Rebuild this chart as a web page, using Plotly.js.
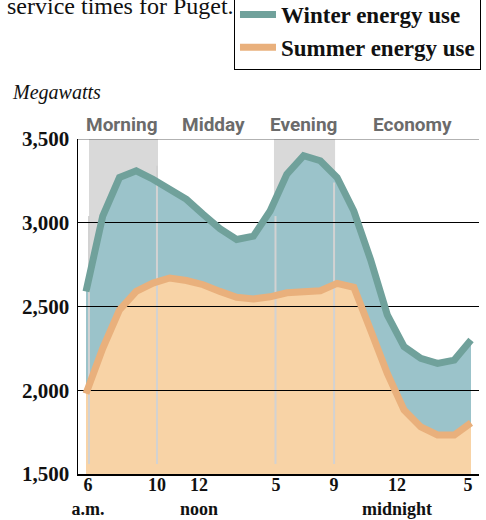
<!DOCTYPE html>
<html><head><meta charset="utf-8">
<script src="https://cdn.plot.ly/plotly-3.0.1.min.js"></script>
<style>html,body{margin:0;padding:0;background:#fff}#chart{width:486px;height:520px}</style>
</head><body><div id="chart"></div>
<script>
// hour of day (6 a.m. through 5 a.m. next day)
const hours = [6,7,8,9,10,11,12,13,14,15,16,17,18,19,20,21,22,23,24,25,26,27,28,29];
const winter = [2590,3040,3270,3310,3260,3200,3140,3050,2965,2900,2920,3070,3290,3400,3370,3270,3070,2780,2450,2260,2190,2160,2180,2300];
const summer = [1980,2250,2480,2590,2640,2670,2655,2630,2590,2555,2545,2558,2582,2586,2594,2638,2615,2360,2100,1882,1781,1733,1733,1805];
const seriesNames = ['Winter energy use', 'Summer energy use'];
const xTickVals = [6.12, 10.24, 12.75, 17.35, 20.82, 24.58, 28.82];
const xTickText = ['6<br>a.m.', '10', '12<br>noon', '5', '9', '12<br>midnight', '5'];
const yTickVals = [1500, 2000, 2500, 3000, 3500];
const yTickText = ['1,500', '2,000', '2,500', '3,000', '3,500'];
const periods = ['Morning', 'Midday', 'Evening', 'Economy'];
const periodCenters = [8.15, 13.59, 19.02, 25.53];
const bands = [[6.18, 10.30], [17.23, 20.88]];
const dividers = [[6.18, 3040], [10.24, 3340], [17.32, 3040], [20.82, 3240]];

const xRange = [5.522, 29.478];
const yRange = [1500, 3500];
const serif = '"Liberation Serif", "Times New Roman", serif';
const narrow = '"Liberation Sans Narrow", "Arial Narrow", Roboto, sans-serif';

const traces = [
  {x: hours, y: winter, type: 'scatter', mode: 'none', fill: 'tozeroy', fillcolor: '#9bc3ca', showlegend: false, hoverinfo: 'skip', xaxis: 'x', yaxis: 'y'},
  {x: hours, y: summer, type: 'scatter', mode: 'none', fill: 'tozeroy', fillcolor: '#f8d3a6', showlegend: false, hoverinfo: 'skip', xaxis: 'x', yaxis: 'y'},
  {x: hours, y: winter, type: 'scatter', mode: 'lines', name: seriesNames[0], line: {color: '#70a19b', width: 7}, xaxis: 'x2', yaxis: 'y2'},
  {x: hours, y: summer, type: 'scatter', mode: 'lines', name: seriesNames[1], line: {color: '#e9b07c', width: 7}, xaxis: 'x2', yaxis: 'y2'}
];

const shapes = [];
bands.forEach(b => shapes.push({type: 'rect', xref: 'x', yref: 'y', x0: b[0], x1: b[1], y0: yRange[0], y1: yRange[1], fillcolor: '#d9d9d9', line: {width: 0}, layer: 'below'}));
dividers.forEach(d => shapes.push({type: 'line', xref: 'x2', yref: 'y2', x0: d[0], x1: d[0], y0: 1560, y1: d[1], line: {color: '#d2d2d2', width: 2}, layer: 'below'}));
shapes.push({type: 'line', xref: 'x2', yref: 'y2', x0: xRange[0], x1: xRange[1], y0: 3500, y1: 3500, line: {color: '#666', width: 1.2}, layer: 'below'});

const annotations = periods.map((p, i) => ({
  text: p, xref: 'x', yref: 'paper', x: periodCenters[i], y: 1, yshift: 15, yanchor: 'middle', xanchor: 'center', showarrow: false,
  font: {family: narrow, size: 19, color: '#6b6b6b', weight: 'bold'}
}));
annotations.push({text: '<i>Megawatts</i>', xref: 'paper', yref: 'paper', x: -0.1696, y: 1.140, xanchor: 'left', yanchor: 'middle', showarrow: false, font: {family: serif, size: 20, color: '#111'}});
annotations.push({text: 'service times for Puget.', xref: 'paper', yref: 'paper', x: -0.182, y: 1.396, xanchor: 'left', yanchor: 'middle', showarrow: false, font: {family: serif, size: 24, color: '#111'}});

const layout = {
  width: 486, height: 520,
  margin: {l: 78, r: 7, t: 139, b: 46, pad: 0, autoexpand: false},
  paper_bgcolor: '#fff', plot_bgcolor: 'rgba(0,0,0,0)',
  showlegend: true,
  legend: {x: 0.389, xanchor: 'left', y: 1.439, yanchor: 'top', bgcolor: '#fff', bordercolor: '#000', borderwidth: 1,
    font: {family: serif, size: 23, color: '#111', weight: 'bold'}, tracegroupgap: 0, itemwidth: 36},
  xaxis: {range: xRange, tickvals: xTickVals, ticktext: xTickText, showgrid: false, zeroline: false, showline: true, linecolor: '#000', linewidth: 1.5,
    ticks: '', ticklabelstandoff: -6, tickfont: {family: serif, size: 18, color: '#111', weight: 'bold'}, fixedrange: true},
  yaxis: {range: yRange, tickvals: yTickVals, ticktext: yTickText, showgrid: false, zeroline: false, showline: true, linecolor: '#000', linewidth: 1.5,
    ticks: 'outside', ticklen: 3, tickcolor: 'rgba(0,0,0,0)', tickfont: {family: serif, size: 21, color: '#111', weight: 'bold'}, fixedrange: true},
  xaxis2: {range: xRange, anchor: 'y2', showgrid: false, zeroline: false, showline: false, showticklabels: false, ticks: '', fixedrange: true},
  yaxis2: {range: yRange, anchor: 'x2', tickvals: [2000, 2500, 3000], showgrid: true, gridcolor: '#000', gridwidth: 1, zeroline: false, showline: false, showticklabels: false, ticks: '', fixedrange: true},
  shapes: shapes,
  annotations: annotations
};

Plotly.newPlot('chart', traces, layout, {displayModeBar: false, staticPlot: true});
</script></body></html>
